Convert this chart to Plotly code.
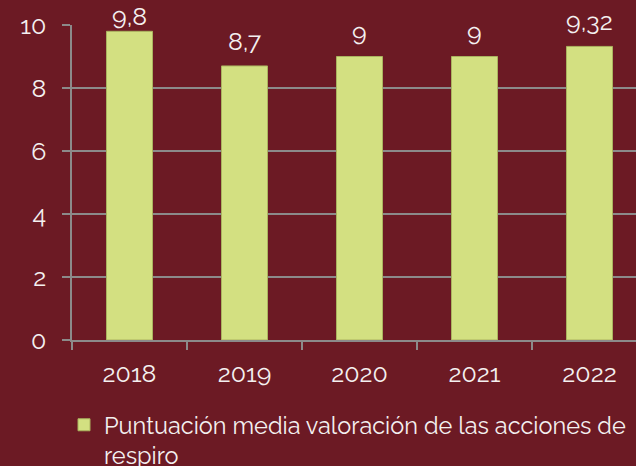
import plotly.graph_objects as go

years = ["2018", "2019", "2020", "2021", "2022"]
scores = [9.8, 8.7, 9, 9, 9.32]
series_name = "Puntuación media valoración de las acciones de<br>respiro"
y_ticks = [0, 2, 4, 6, 8, 10]

BG = "#6C1A24"
BAR = "#D3E081"
GRID = "#8C8A8A"
TXT = "#F4F0F0"
FONT = "Raleway, Lato, sans-serif"

W, H = 636, 466
T, B, L = 25, 126, 72
plot_h = H - T - B
cat_w = 115

fig = go.Figure()
fig.add_trace(go.Bar(
    x=years, y=scores, name=series_name,
    marker=dict(color=BAR, line=dict(color="#AAB35F", width=1)),
    showlegend=True,
))

# value labels above bars (offset in pixels, clamped near the top)
for i, v in enumerate(scores):
    top_px = T + (1 - v / 10) * plot_h
    shift = min(8, top_px - 33)
    fig.add_annotation(
        x=i, y=v, xref="x", yref="y",
        text=f"{v:g}".replace(".", ","), showarrow=False,
        yanchor="bottom", yshift=shift,
        font=dict(family=FONT, size=25, color=TXT),
    )

fig.update_layout(
    width=W, height=H,
    margin=dict(l=L, r=0, t=T, b=B, autoexpand=False),
    paper_bgcolor=BG, plot_bgcolor=BG,
    bargap=0.6,
    font=dict(family=FONT, size=24, color=TXT),
    showlegend=True,
    legend=dict(
        xref="container", yref="container",
        x=64 / W, y=1 - 403 / H, xanchor="left", yanchor="top",
        font=dict(family=FONT, size=23.5, color=TXT),
        valign="top", bgcolor="rgba(0,0,0,0)",
    ),
    xaxis=dict(
        type="category",
        range=[-0.5, -0.5 + (W - L) / cat_w],
        showline=True, linecolor=GRID, linewidth=1.5,
        ticks="outside", tickson="boundaries", ticklen=8, tickcolor=GRID, tickwidth=1.5,
        showgrid=False, ticklabelstandoff=10,
        tickfont=dict(family=FONT, size=25, color=TXT),
    ),
    yaxis=dict(
        range=[0, 10], tickvals=y_ticks,
        showline=True, linecolor=GRID, linewidth=1.5,
        ticks="outside", ticklen=8, tickcolor=GRID, tickwidth=1.5,
        showgrid=True, gridcolor=GRID, gridwidth=1.5, zeroline=False,
        ticklabelstandoff=11,
        tickfont=dict(family=FONT, size=25, color=TXT),
    ),
)

fig.write_html("out.html", config={"displayModeBar": False},
               post_script="document.body.style.margin='0';")
